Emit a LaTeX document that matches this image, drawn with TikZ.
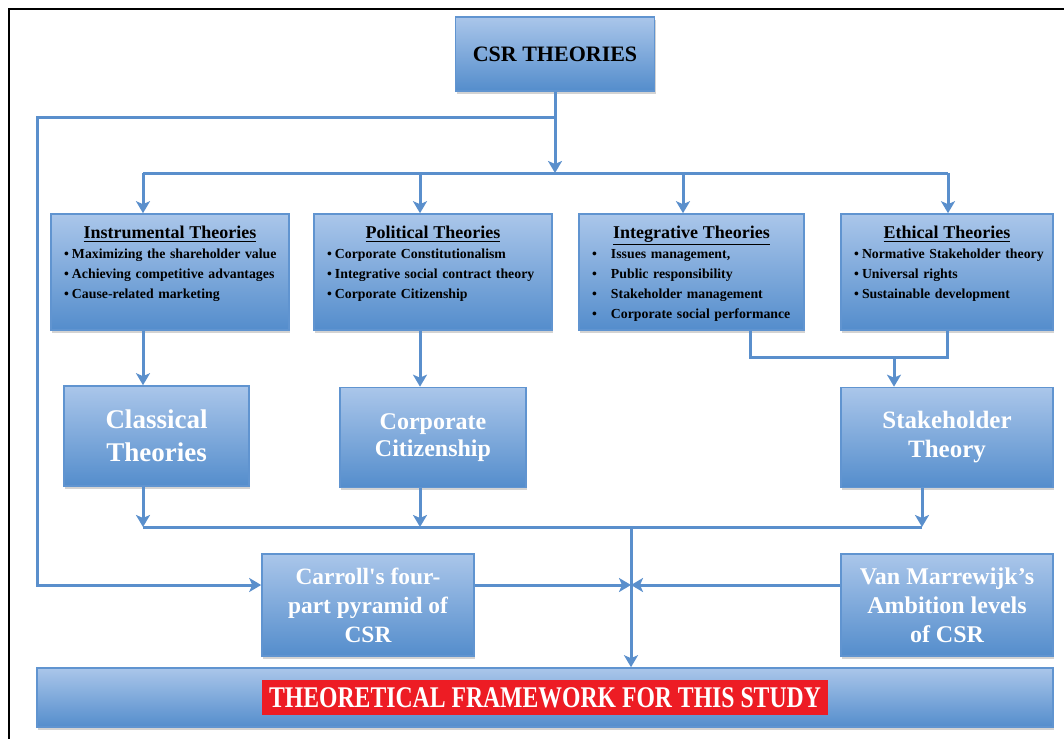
\documentclass[tikz,border=0pt]{standalone}
\usepackage{fontspec}
\setmainfont{Liberation Serif}
\newfontfamily\condfont[FakeStretch=0.79]{Liberation Serif}
\usetikzlibrary{arrows.meta, shadows}

\definecolor{boxtop}{RGB}{170,198,234}
\definecolor{boxbot}{RGB}{84,141,204}
\definecolor{boxline}{RGB}{96,148,208}
\definecolor{linkblue}{RGB}{90,143,204}
\definecolor{alertred}{RGB}{237,28,36}

\newcommand{\bul}[2][4pt]{\par\mbox{\makebox[#1][l]{\textbullet}#2}}
\newcommand{\boxhead}[1]{{\centering\fontsize{9}{10}\selectfont\underline{#1}\par}}

\begin{document}
\begin{tikzpicture}[
    x=0.5pt, y=-0.5pt,
    panel/.style={
        draw=boxline,
        line width=0.8pt,
        top color=boxtop,
        bottom color=boxbot,
        drop shadow={shadow xshift=0.6pt, shadow yshift=-1.4pt, opacity=0.35}
    },
    box/.style={
        panel,
        align=center,
        text=white
    },
    listbox/.style={
        panel,
        text=black,
        inner xsep=6.5pt,
        inner ysep=0pt,
        text height=12pt,
        text depth=46pt,
        font=\fontsize{6.9}{10}\selectfont\bfseries
    },
    link/.style={
        draw=linkblue,
        line width=1.5pt
    },
    arrow/.style={
        link,
        -{Stealth[length=6pt, width=7pt, inset=1.5pt]}
    }
]

\useasboundingbox (0,0) rectangle (1064,738);
\draw[line width=1pt] (1080,9) -- (8.5,9) -- (8.5,750);

\node[box, minimum width=99.5pt, minimum height=37pt, text=black, font=\fontsize{11}{13}\selectfont\bfseries] (csr) at (555,54) {CSR THEORIES};

\node[listbox, text width=106pt] (instr) at (170,272) {\boxhead{Instrumental Theories}
\bul{Maximizing the shareholder value}
\bul{Achieving competitive advantages}
\bul{Cause-related marketing}};
\node[listbox, text width=106pt] (polit) at (433,272) {\boxhead{Political Theories}
\bul{Corporate Constitutionalism}
\bul{Integrative social contract theory}
\bul{Corporate Citizenship}};
\node[listbox, text width=99.5pt] (integ) at (691.5,272) {\boxhead{Integrative Theories}
\bul[9.5pt]{Issues management,}
\bul[9.5pt]{Public responsibility}
\bul[9.5pt]{Stakeholder management}
\bul[9.5pt]{Corporate social performance}};
\node[listbox, text width=93pt] (ethic) at (947,272) {\boxhead{Ethical Theories}
\bul{Normative Stakeholder theory}
\bul{Universal rights}
\bul{Sustainable development}};

\node[box, minimum width=92.5pt, minimum height=50pt, font=\fontsize{13.5}{16.5}\selectfont\bfseries] (classic) at (156.5,436) {Classical\\Theories};
\node[box, minimum width=93pt, minimum height=50pt, font=\fontsize{12}{13.5}\selectfont\bfseries] (citizen) at (433,437.5) {Corporate\\Citizenship};
\node[box, minimum width=106pt, minimum height=50pt, font=\fontsize{12.5}{14.5}\selectfont\bfseries] (stakeh) at (947,437.5) {Stakeholder\\Theory};

\node[box, minimum width=106pt, minimum height=51pt, font=\fontsize{11.7}{14.5}\selectfont\bfseries] (carroll) at (368,605) {Carroll\textquotesingle s four-\\part pyramid of\\CSR};
\node[box, minimum width=106pt, minimum height=51pt, font=\fontsize{12}{14.5}\selectfont\bfseries] (vanmar) at (947,605) {Van Marrewijk's\\Ambition levels\\of CSR};

\node[box, minimum width=508pt, minimum height=29.5pt, font=\condfont\fontsize{15}{17}\selectfont\bfseries] (final) at (545,697.5) {\setlength{\fboxsep}{3.5pt}\colorbox{alertred}{THEORETICAL FRAMEWORK FOR THIS STUDY}};

\coordinate (fork) at (555,117);
\coordinate (split) at (555,173);
\coordinate (edge) at (37,585);
\coordinate (cross) at (631,585);
\coordinate (merge) at (631,527);
\coordinate (join) at (894,357);
\coordinate (colA) at (143,0);
\coordinate (colB) at (420,0);
\coordinate (colC) at (683,0);
\coordinate (colD) at (948,0);
\coordinate (colE) at (750,0);
\coordinate (colF) at (922,0);

\draw[arrow] (csr) -- (split);
\draw[link] (split -| colA) -- (split -| colD);
\draw[arrow] (split -| colA) -- (instr.north -| colA);
\draw[arrow] (split -| colB) -- (polit.north -| colB);
\draw[arrow] (split -| colC) -- (integ.north -| colC);
\draw[arrow] (split -| colD) -- (ethic.north -| colD);

\draw[arrow] (instr.south -| colA) -- (classic.north -| colA);
\draw[arrow] (polit.south -| colB) -- (citizen.north -| colB);
\draw[link] (integ.south -| colE) |- (join) -| (ethic.south);
\draw[arrow] (join) -- (stakeh.north -| join);

\draw[arrow] (classic.south -| colA) -- (merge -| colA);
\draw[arrow] (citizen.south -| colB) -- (merge -| colB);
\draw[arrow] (stakeh.south -| colF) -- (merge -| colF);
\draw[link] (merge -| colA) -- (merge -| colF);
\draw[arrow] (merge) -- (final.north -| merge);

\draw[arrow] (fork) -| (edge) -- (carroll.west |- edge);
\draw[arrow] (carroll.east |- cross) -- (cross);
\draw[arrow] (vanmar.west |- cross) -- (cross);

\end{tikzpicture}
\end{document}
